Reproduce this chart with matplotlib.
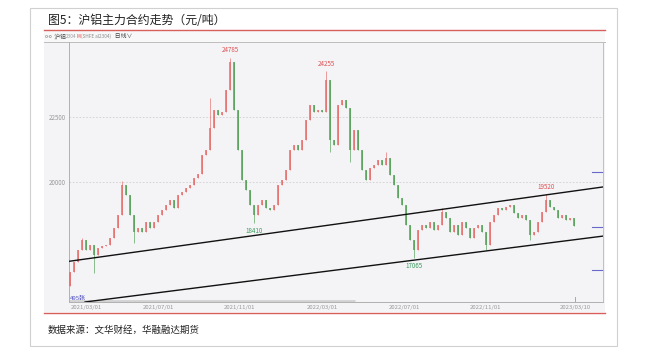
import numpy as np
import matplotlib
matplotlib.use("Agg")
import matplotlib.pyplot as plt
from matplotlib.patches import Rectangle
from matplotlib.lines import Line2D
from matplotlib.text import Annotation

plt.rcParams['font.family'] = ['Noto Sans CJK SC', 'DejaVu Sans']

# closes, roughly one candle per 4 trading days (SHFE al, 2021/02 - 2023/03)
first_open = 16000
closes = [16540, 16920, 17390, 17770, 17390, 17580, 17190, 17460, 17540, 17580,
          17850, 18230, 18730, 19880, 19500, 18730, 18080, 18230, 18080, 18460,
          18230, 18460, 18730, 18920, 19120, 19310, 19000, 19500, 19620, 19770,
          19880, 20150, 20310, 21040, 21230, 22080, 22770, 22580, 22690, 23540,
          24620, 22770, 21230, 20080, 19690, 19120, 18730, 19120, 19310, 19000,
          18920, 19120, 19880, 20080, 20460, 21230, 21420, 21230, 21620, 22380,
          22960, 22690, 22770, 22690, 23920, 21620, 21420, 22960, 23150, 22850,
          21230, 22000, 21230, 20460, 20080, 20540, 20650, 20850, 20650, 20920,
          20270, 19880, 19380, 19120, 18350, 17770, 17390, 18150, 18350, 18230,
          18460, 18150, 18350, 18850, 18620, 18080, 18350, 17960, 18460, 18230,
          17850, 18230, 18350, 18080, 17580, 18460, 18730, 19000, 18920, 19040,
          19120, 18810, 18620, 18730, 18540, 17960, 18080, 18460, 18850, 19310,
          19040, 18920, 18620, 18730, 18540, 18620, 18310]

# wicks that stick out beyond the candle bodies
spike_high_idx = [3, 13, 35, 40, 64, 79, 93, 119]
spike_high_val = [17850, 20040, 23230, 24785, 24255, 21150, 19000, 19520]
spike_low_idx = [6, 16, 46, 65, 70, 86, 104, 115]
spike_low_val = [16500, 17650, 18410, 21150, 20770, 17065, 17380, 17770]

# marked extremes
peak_idx = [40, 64, 119]
peak_val = [24785, 24255, 19520]
trough_idx = [46, 86]
trough_val = [18410, 17065]

# channel lines (bar index, price)
upper_x = [-0.25, 133.25]
upper_y = [16950, 19810]
lower_x = [3.75, 133.25]
lower_y = [15385, 17920]

tick_pos = [4, 22, 42.5, 63, 83.5, 104, 126.25]
tick_lab = ['2021/03/01', '2021/07/01', '2021/11/01', '2022/03/01',
            '2022/07/01', '2022/11/01', '2023/03/10']
side_marks = [20385, 18270, 16615]

W, H = 659, 353
fig = plt.figure(figsize=(W / 100, H / 100), dpi=100)


def fx(px):
    return px / W


def fy(py):
    return 1 - py / H


# frame / panel (behind the axes)
fig.patches.append(Rectangle((fx(30), fy(346)), fx(617) - fx(30), fy(8) - fy(346),
                             fill=False, edgecolor='#d0d0d0', lw=0.8,
                             transform=fig.transFigure, zorder=-5))
fig.patches.append(Rectangle((fx(44), fy(312)), fx(605) - fx(44), fy(31) - fy(312),
                             facecolor='#f4f4f7', edgecolor='none',
                             transform=fig.transFigure, zorder=-5))
fig.patches.append(Rectangle((fx(44), fy(41.5)), fx(605) - fx(44), fy(31) - fy(41.5),
                             facecolor='#f8f8f9', edgecolor='none',
                             transform=fig.transFigure, zorder=-4))
for yy, cc, lw in [(30, '#d8605c', 1.0), (313, '#d8605c', 1.0), (41.5, '#bdbdbd', 0.7)]:
    fig.lines.append(Line2D([fx(44), fx(605)], [fy(yy), fy(yy)], color=cc, lw=lw,
                            transform=fig.transFigure, zorder=-3))

fig.text(fx(48), fy(21), '图5：沪铝主力合约走势（元/吨）', fontsize=8.6, color='#222222',
         va='center', ha='left')
fig.text(fx(48), fy(330), '数据来源：文华财经，华融融达期货', fontsize=6.8, color='#222222',
         va='center', ha='left')

# toolbar, pieces chained one after another
tb = fig.text(fx(45), fy(36.5), 'o-o', fontsize=3.6, color='#666666', va='center')
parts = [(' 沪铝', 4.2, '#444444'), ('2304', 3.4, '#999999'), ('M', 3.4, '#e04040'),
         (' (SHFE al2304)', 3.4, '#888888'), ('   日线∨', 4.2, '#444444')]
prev = tb
for s, fs, cc in parts:
    prev = fig.add_artist(Annotation(s, xy=(1, 0.5), xycoords=prev, fontsize=fs,
                                     color=cc, va='center', ha='left'))

ax = fig.add_axes([fx(69), fy(302), fx(603) - fx(69), fy(42) - fy(302)])
ax.set_facecolor('none')

c = np.array(closes, dtype=float)
o = np.concatenate([[first_open], c[:-1]])
hi = np.maximum(o, c)
lo = np.minimum(o, c)
hi[spike_high_idx] = spike_high_val
lo[spike_low_idx] = spike_low_val
x = np.arange(len(c))
up = c >= o
col = np.where(up, '#e46a66', '#4f9d52')

ax.vlines(x, lo, hi, colors=col, lw=0.6, alpha=0.75, zorder=2)
body_h = np.maximum(np.abs(c - o), 25)
ax.bar(x, body_h, bottom=np.minimum(o, c), width=0.5, color=col, alpha=0.75,
       edgecolor='none', zorder=3)

for v in [20000, 22500]:
    ax.axhline(v, color='#cfcfcf', lw=0.6, ls=(0, (2, 2)), zorder=1)

ax.plot(upper_x, upper_y, color='#111111', lw=1.0, zorder=4)
ax.plot(lower_x, lower_y, color='#111111', lw=1.0, zorder=4)

for i, v in zip(peak_idx, peak_val):
    ax.annotate(str(v), (i, v), xytext=(0, 2.5), textcoords='offset points',
                ha='center', va='bottom', fontsize=4.5, color='#e05050')
for i, v in zip(trough_idx, trough_val):
    ax.annotate(str(v), (i, v), xytext=(0, -2.5), textcoords='offset points',
                ha='center', va='top', fontsize=4.5, color='#3a9a5a')

ax.text(0.002, 0.015, '495张', transform=ax.transAxes, fontsize=4.3, color='#5050c0',
        ha='left', va='center')

tr = ax.get_yaxis_transform()
for v in side_marks:
    ax.plot([0.98, 1.0], [v, v], color='#6868c8', lw=0.8, transform=tr, clip_on=False)

# scrollbar strip
ax.plot([0, 0.535], [0.003, 0.003], color='#d2d2d2', lw=2, transform=ax.transAxes,
        solid_capstyle='butt', zorder=1)

ax.set_xlim(-0.25, 133.25)
ax.set_ylim(15385, 25385)
ax.set_yticks([20000, 22500])
ax.set_yticklabels(['20000', '22500'], fontsize=4.5, color='#999999')
ax.set_xticks(tick_pos)
ax.set_xticklabels(tick_lab, fontsize=4.3, color='#999999')
ax.tick_params(axis='both', length=0, pad=2)
ax.axvline(tick_pos[-1], ymin=0, ymax=0.02, color='#999999', lw=0.6)

for s in ['left', 'bottom']:
    ax.spines[s].set_color('#b0b0b0')
    ax.spines[s].set_linewidth(0.7)
ax.spines['right'].set_color('#c0c0c0')
ax.spines['right'].set_linewidth(0.7)
ax.spines['top'].set_visible(False)

fig.savefig('out.png', dpi=100)
